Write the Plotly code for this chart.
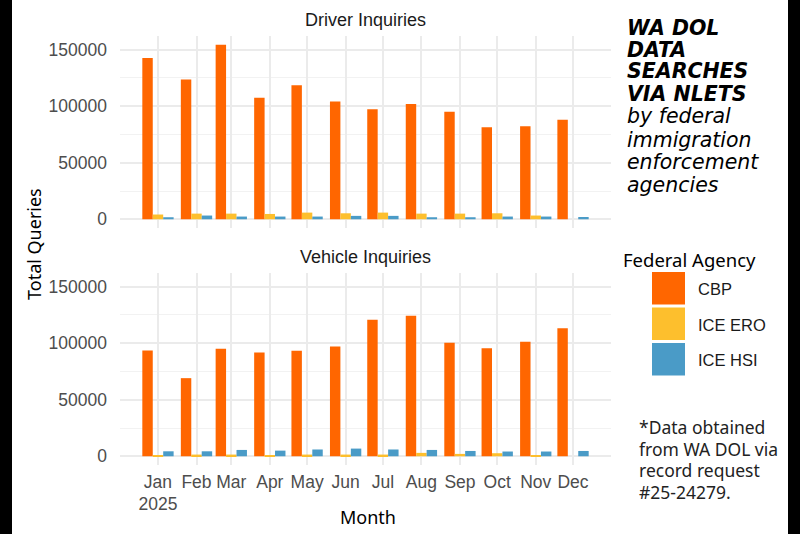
import plotly.graph_objects as go

# ---------------- data ----------------
months = ['2025-01-01', '2025-02-01', '2025-03-01', '2025-04-01', '2025-05-01', '2025-06-01',
          '2025-07-01', '2025-08-01', '2025-09-01', '2025-10-01', '2025-11-01', '2025-12-01']
month_labels = ['Jan<br>2025', 'Feb', 'Mar', 'Apr', 'May', 'Jun',
                'Jul', 'Aug', 'Sep', 'Oct', 'Nov', 'Dec']

agencies = ['CBP', 'ICE ERO', 'ICE HSI']
agency_colors = ['#FF6600', '#FDBF2D', '#4A9BC7']

driver_cbp = [142600, 123600, 154400, 107400, 118600, 104100, 97300, 102000, 95200, 81300, 82200, 88100]
driver_ice_ero = [4200, 5000, 5000, 4700, 5900, 5300, 5900, 5000, 5000, 5300, 3300, 0]
driver_ice_hsi = [1800, 3300, 2400, 2400, 2400, 3000, 3000, 1800, 1800, 2400, 2400, 2000]

vehicle_cbp = [93600, 69100, 95200, 91900, 93400, 97200, 120700, 124200, 100500, 95500, 101400, 113200]
vehicle_ice_ero = [600, 1500, 1500, 600, 1500, 1500, 1500, 3000, 2100, 2700, 600, 0]
vehicle_ice_hsi = [4400, 4400, 5600, 5000, 6000, 6800, 6000, 5600, 4700, 4200, 4200, 4700]

y_ticks = [0, 50000, 100000, 150000]
panel_titles = ['Driver Inquiries', 'Vehicle Inquiries']

title_bold = ['WA DOL', 'DATA', 'SEARCHES', 'VIA NLETS']
title_italic = ['by federal', 'immigration', 'enforcement', 'agencies']
footnote = ['*Data obtained', 'from WA DOL via', 'record request', '#25-24279.']

# ---------------- figure ----------------
W, H = 800, 534
ML, MR = 12, 12          # black side borders of the reference image
IW = W - ML - MR


def px(x):
    return (x - ML) / IW


def py(y):
    return 1 - y / H


fig = go.Figure()

panels = [
    ('x', 'y', [driver_cbp, driver_ice_ero, driver_ice_hsi]),
    ('x2', 'y2', [vehicle_cbp, vehicle_ice_ero, vehicle_ice_hsi]),
]
for xa, ya, series in panels:
    for name, color, vals in zip(agencies, agency_colors, series):
        fig.add_trace(go.Bar(
            x=months, y=vals, name=name, xaxis=xa, yaxis=ya,
            marker=dict(color=color, line=dict(width=0)),
            offsetgroup=name, showlegend=False,
        ))

x_range = ['2024-12-01 10:33', '2025-12-31 13:26']
y_range = [-7720, 162120]

tick_font = dict(family='Liberation Sans, Arial, sans-serif', size=17.5, color='#4D4D4D')
grid_major = '#EBEBEB'
grid_minor = '#F2F2F2'

xcommon = dict(type='date', range=x_range, tickvals=months, ticktext=month_labels,
               showgrid=True, gridcolor=grid_major, gridwidth=1.7, zeroline=False,
               showline=False, ticks='', tickfont=tick_font, domain=[px(120), px(611)])
ycommon = dict(range=y_range, tickvals=y_ticks, tickformat='d', showgrid=True,
               gridcolor=grid_major, gridwidth=1.7, zeroline=False, showline=False,
               ticks='', tickfont=tick_font, ticklabelstandoff=12,
               minor=dict(dtick=25000, tick0=0, showgrid=True, gridcolor=grid_minor, gridwidth=1))

fig.update_layout(
    width=W, height=H,
    margin=dict(l=ML, r=MR, t=0, b=0, pad=0),
    paper_bgcolor='black', plot_bgcolor='white',
    barmode='group', bargap=0.1, bargroupgap=0,
    showlegend=False,
    xaxis=dict(**xcommon, anchor='y', showticklabels=False),
    yaxis=dict(**ycommon, anchor='x', domain=[py(228), py(36)]),
    xaxis2=dict(**xcommon, anchor='y2', showticklabels=True, ticklabelstandoff=4),
    yaxis2=dict(**ycommon, anchor='x2', domain=[py(465), py(273)]),
)

shapes = []
# white canvas between the black side borders
shapes.append(dict(type='rect', xref='paper', yref='paper', x0=0, x1=1, y0=0, y1=1,
                   fillcolor='white', line=dict(width=0), layer='below'))

ann = []
strip_font = dict(family='Liberation Sans, Arial, sans-serif', size=18, color='#1A1A1A')
for title, yc in zip(panel_titles, [19.5, 257]):
    ann.append(dict(text=title, x=px(365.5), y=py(yc), xref='paper', yref='paper',
                    xanchor='center', yanchor='middle', showarrow=False, font=strip_font))

axis_title_font = dict(family='Noto Sans, sans-serif', size=18, color='black')
ann.append(dict(text='Total Queries', x=px(34), y=py(244), xref='paper', yref='paper',
                xanchor='center', yanchor='middle', textangle=-90, showarrow=False,
                font=axis_title_font))
ann.append(dict(text='Month', x=px(367.5), y=py(517), xref='paper', yref='paper',
                xanchor='center', yanchor='middle', showarrow=False, font=axis_title_font))

# title block
title_baselines = [35, 56.7, 78.3, 100.7, 123, 146.7, 169, 191.7]
lines = [('<b><i>%s</i></b>' % t) for t in title_bold] + [('<i>%s</i>' % t) for t in title_italic]
for text, bl in zip(lines, title_baselines):
    ann.append(dict(text=text, x=px(625), y=py(bl - 7), xref='paper', yref='paper',
                    xanchor='left', yanchor='middle', showarrow=False,
                    font=dict(family='DejaVu Sans, sans-serif', size=20.5, color='black')))

# legend (drawn manually to mimic large ggplot keys)
ann.append(dict(text='Federal Agency', x=px(621), y=py(259), xref='paper', yref='paper',
                xanchor='left', yanchor='middle', showarrow=False,
                font=dict(family='Noto Sans, sans-serif', size=18.5, color='black')))
key_tops = [272, 307.5, 343]
for name, color, top in zip(agencies, agency_colors, key_tops):
    shapes.append(dict(type='rect', xref='paper', yref='paper', x0=px(652), x1=px(685),
                       y0=py(top + 32.5), y1=py(top), fillcolor=color, line=dict(width=0)))
    ann.append(dict(text=name, x=px(696), y=py(top + 17), xref='paper', yref='paper',
                    xanchor='left', yanchor='middle', showarrow=False,
                    font=dict(family='Liberation Sans, Arial, sans-serif', size=16.5, color='#1A1A1A')))

# footnote
foot_baselines = [433.3, 455, 476, 497.7]
for text, bl in zip(footnote, foot_baselines):
    ann.append(dict(text=text, x=px(637), y=py(bl - 6), xref='paper', yref='paper',
                    xanchor='left', yanchor='middle', showarrow=False,
                    font=dict(family='Noto Sans, sans-serif', size=17.5, color='#222222')))

fig.update_layout(annotations=ann, shapes=shapes)

fig.write_html('out.html', config={'displayModeBar': False},
               post_script="document.body.style.margin='0px';document.body.style.overflow='hidden';")
